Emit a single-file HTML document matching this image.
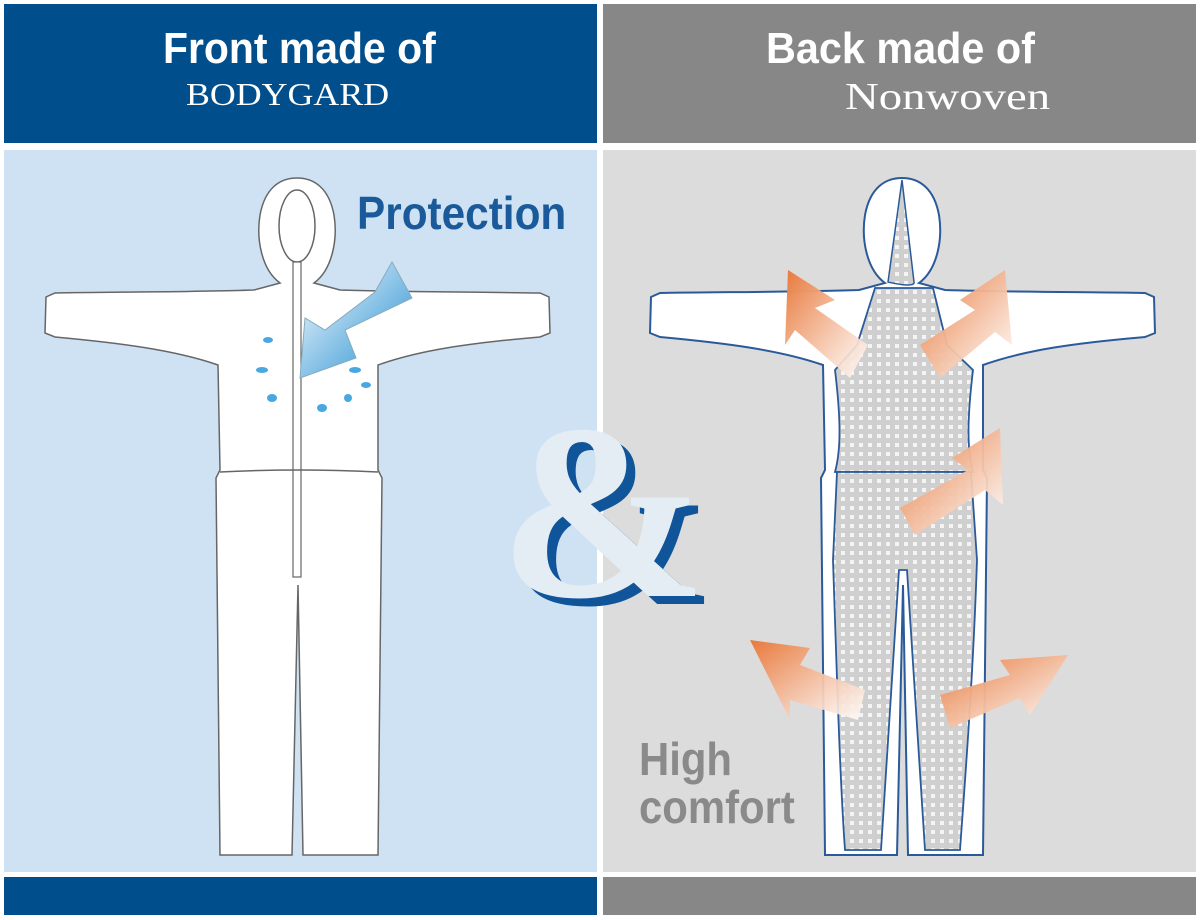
<!DOCTYPE html>
<html><head><meta charset="utf-8"><style>
html,body{margin:0;padding:0;background:#fff;}
body{width:1200px;height:920px;position:relative;overflow:hidden;font-family:"Liberation Sans",sans-serif;}
.a{position:absolute;white-space:nowrap;}
</style></head><body>
<div class="a" style="left:4px;top:4px;width:593px;height:139px;background:#004f8c"></div>
<div class="a" style="left:603px;top:4px;width:593px;height:139px;background:#878787"></div>
<div class="a" style="left:4px;top:150px;width:593px;height:722px;background:#cfe2f3"></div>
<div class="a" style="left:603px;top:150px;width:593px;height:722px;background:#dcdcdc"></div>
<div class="a" style="left:4px;top:877px;width:593px;height:38px;background:#004f8c"></div>
<div class="a" style="left:603px;top:877px;width:593px;height:38px;background:#878787"></div>

<div class="a" style="left:163px;top:24px;color:#fff;font-weight:bold;font-size:44px;line-height:50px;transform:scaleX(0.93);transform-origin:left">Front made of</div>
<div class="a" style="left:186px;top:76px;color:#fff;font-family:'Liberation Serif',serif;font-size:32px;line-height:36px;transform:scaleX(1.12);transform-origin:left">BODYGARD</div>
<div class="a" style="left:766px;top:24px;color:#fff;font-weight:bold;font-size:44px;line-height:50px;transform:scaleX(0.94);transform-origin:left">Back made of</div>
<div class="a" style="left:845px;top:76px;color:#fff;font-family:'Liberation Serif',serif;font-size:38px;line-height:42px;transform:scaleX(1.23);transform-origin:left">Nonwoven</div>

<svg class="a" style="left:0;top:0" width="1200" height="920" viewBox="0 0 1200 920">
<defs>
<path id="suit" d="M280,283 C262,270 256,240 260,215 C265,188 280,178 297,178 C314,178 329,188 334,215 C338,240 332,270 314,283 L340,290 C400,292 480,292 540,293 L549,297 L550,333 L540,337 C470,343 420,350 378,365 L378,470 L382,478 L378,855 L303,855 L298,585 L292,855 L220,855 L216,478 L220,470 L218,365 C175,350 120,343 55,337 L45,333 L46,297 L55,293 C115,292 195,292 254,290 Z"/>
<pattern id="dots" width="9" height="9" patternUnits="userSpaceOnUse"><rect width="9" height="9" fill="#cfcfcf"/><rect x="2" y="2" width="4" height="4" fill="#f4f4f4"/></pattern>
<linearGradient id="og" x1="0" y1="0" x2="1" y2="1"><stop offset="0" stop-color="#e8783a"/><stop offset="1" stop-color="#fff" stop-opacity="0.9"/></linearGradient>
<linearGradient id="bg" x1="0" y1="0" x2="1" y2="1"><stop offset="0" stop-color="#fff"/><stop offset="1" stop-color="#1a8ad0"/></linearGradient>
</defs>
<use href="#suit" fill="#fff" stroke="#666" stroke-width="1.5"/>
<ellipse cx="297" cy="226" rx="18" ry="36" fill="#fff" stroke="#666" stroke-width="1.5"/>
<rect x="293" y="262" width="8" height="315" fill="#fff" stroke="#666" stroke-width="1.2"/>
<path d="M220,472 Q297,468 378,472" fill="none" stroke="#666" stroke-width="1.5"/>
<polygon points="392,262 412,298 345,330 356,358 300,378 305,318 325,330 375,292" fill="url(#bg)" stroke="#8ab" stroke-width="1"/>
<g fill="#4aa8e0"><ellipse cx="268" cy="340" rx="5" ry="3"/><ellipse cx="262" cy="370" rx="6" ry="3"/><ellipse cx="272" cy="398" rx="5" ry="4"/><ellipse cx="355" cy="370" rx="6" ry="3"/><ellipse cx="348" cy="398" rx="4" ry="4"/><ellipse cx="322" cy="408" rx="5" ry="4"/><ellipse cx="366" cy="385" rx="5" ry="3"/></g>
<g transform="translate(605,0)">
<use href="#suit" fill="#fff" stroke="#2a5a9a" stroke-width="2"/>
<path d="M297,180 L283,282 C300,286 310,286 309,282 Z" fill="url(#dots)" stroke="#2a5a9a" stroke-width="1.5"/>
<path d="M270,288 L328,288 L342,345 L368,370 C362,420 362,450 368,472 L230,472 C236,450 236,420 230,370 L252,345 Z" fill="url(#dots)" stroke="#2a5a9a" stroke-width="1.8"/>
<path d="M232,472 L366,472 L372,560 C368,680 360,780 355,850 L320,850 L302,570 L294,570 L276,850 L240,850 C235,780 232,680 228,560 Z" fill="url(#dots)" stroke="#2a5a9a" stroke-width="1.8"/>
</g>
<g fill="url(#og)">
<polygon points="788,270 835,300 815,308 868,345 850,378 795,330 785,345"/>
<polygon points="1005,270 1012,345 995,332 940,378 920,345 975,310 960,300"/>
<polygon points="1000,428 1003,505 985,490 915,535 900,508 968,470 952,458"/>
<polygon points="750,640 810,648 800,665 865,690 858,720 790,700 790,720"/>
<polygon points="1068,655 1030,715 1020,698 950,728 940,695 1010,675 1000,660"/>
</g>
<text x="508" y="604" font-family="Liberation Serif,serif" font-weight="bold" font-size="250" fill="#10549a">&amp;</text>
<text x="499" y="596" font-family="Liberation Serif,serif" font-weight="bold" font-size="250" fill="#e4ecf4">&amp;</text>
</svg>

<div class="a" style="left:357px;top:188px;color:#1a5a9a;font-weight:bold;font-size:46px;line-height:50px;transform:scaleX(0.92);transform-origin:left">Protection</div>
<div class="a" style="left:639px;top:735px;color:#8a8a8a;font-weight:bold;font-size:46px;line-height:48px;transform:scaleX(0.91);transform-origin:left">High<br>comfort</div>
</body></html>
